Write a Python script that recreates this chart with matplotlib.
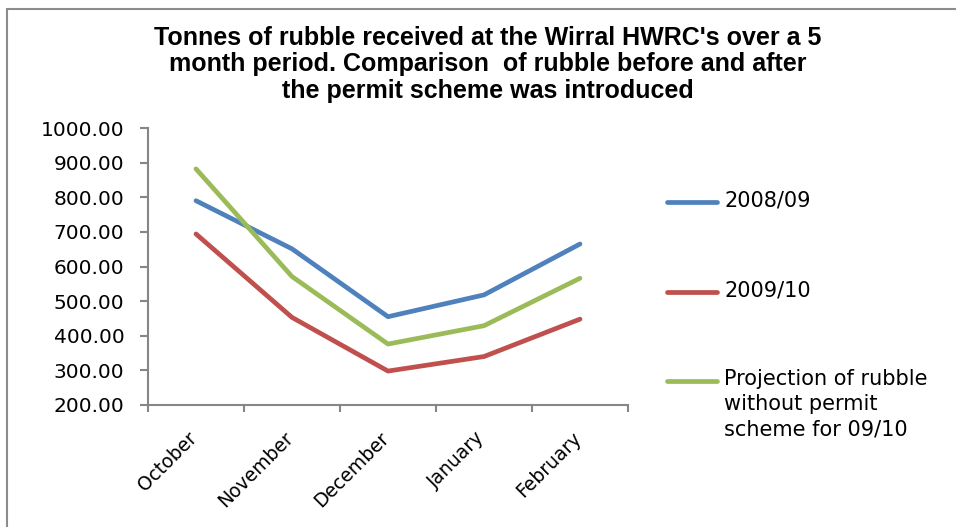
import numpy as np
import matplotlib
matplotlib.use("Agg")
import matplotlib.pyplot as plt
from matplotlib.lines import Line2D
from matplotlib.patches import Rectangle

# data
months = ["October", "November", "December", "January", "February"]
rubble_0809 = [790, 651, 455, 518, 665]
rubble_0910 = [694, 453, 298, 340, 448]
projection_0910 = [882, 571, 376, 429, 566]

series_labels = ["2008/09", "2009/10",
                 "Projection of rubble\nwithout permit\nscheme for 09/10"]
colors = ["#4F81BD", "#C0504D", "#9BBB59"]
title = ("Tonnes of rubble received at the Wirral HWRC's over a 5\n"
         "month period. Comparison  of rubble before and after\n"
         "the permit scheme was introduced")

fig = plt.figure(figsize=(9.56, 5.27), dpi=100)
ax = fig.add_axes([148/956, 1 - 405/527, 480/956, 277/527])

x = np.arange(len(months))
for vals, c in zip([rubble_0809, rubble_0910, projection_0910], colors):
    ax.plot(x, vals, color=c, linewidth=3.4, solid_capstyle="round",
            solid_joinstyle="round")

ax.set_xlim(-0.5, len(months) - 0.5)
ax.set_ylim(200, 1000)
ax.set_yticks(np.arange(200, 1001, 100))
ax.set_yticklabels([f"{v:.2f}" for v in np.arange(200, 1001, 100)])
ax.set_xticks(np.arange(-0.5, len(months), 1.0), minor=False)
ax.set_xticklabels([])
ax.set_xticks(x + 0.05, minor=True)
ax.set_xticklabels(months, minor=True, rotation=45, ha="right", va="top",
                   fontsize=13.5, family="DejaVu Sans")
ax.tick_params(axis="x", which="minor", length=0, pad=17)
ax.tick_params(axis="x", which="major", length=5, width=1.5, color="#868686",
               direction="out")
ax.tick_params(axis="y", length=6, width=1.5, color="#868686", pad=11,
               labelsize=14.5)
for lab in ax.get_yticklabels():
    lab.set_family("DejaVu Sans")

for s in ["top", "right"]:
    ax.spines[s].set_visible(False)
for s in ["left", "bottom"]:
    ax.spines[s].set_color("#868686")
    ax.spines[s].set_linewidth(1.5)

fig.text(488/956, 1 - 26/527, title, ha="center", va="top",
         fontsize=18, fontweight="bold", family="Liberation Sans",
         linespacing=1.12)

# legend drawn by hand to match the spacing
leg_y = [202, 292, 381]
for lab, c, yy in zip(series_labels, colors, leg_y):
    fy = 1 - yy/527
    fig.add_artist(Line2D([667/956, 717/956], [fy, fy], color=c,
                          linewidth=3.4, solid_capstyle="round",
                          transform=fig.transFigure))
    fig.text(724/956, fy + 12/527, lab, ha="left", va="top", fontsize=15,
             family="DejaVu Sans", linespacing=1.32)

# chart frame
fig.add_artist(Rectangle((7/956, -0.1), 1.2, 1 - 9/527 + 0.1,
                         transform=fig.transFigure, fill=False,
                         edgecolor="#8c8c8c", linewidth=1.5))

fig.savefig("out.png", dpi=100)
